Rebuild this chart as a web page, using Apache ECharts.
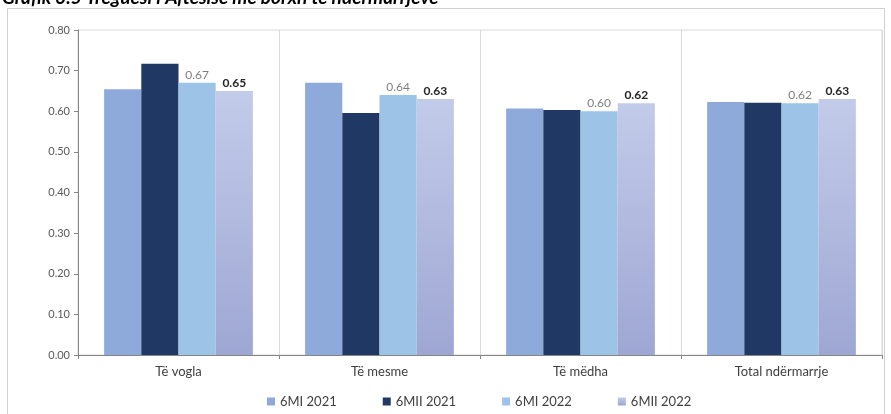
<!DOCTYPE html>
<html>
<head>
<meta charset="utf-8">
<script src="https://cdn.jsdelivr.net/npm/echarts@6/dist/echarts.min.js"></script>
<style>
  html, body { margin: 0; padding: 0; background: #fff; }
  #chart { width: 891px; height: 414px; }
</style>
</head>
<body>
<div id="chart"></div>
<script>
// Categories of enterprises (by size) and the four half-year periods
const categories = ['Të vogla', 'Të mesme', 'Të mëdha', 'Total ndërmarrje'];
const seriesNames = ['6MI 2021', '6MII 2021', '6MI 2022', '6MII 2022'];

// Indicator values per period
const h1_2021 = [0.654, 0.670, 0.607, 0.623];
const h2_2021 = [0.717, 0.596, 0.603, 0.621];
const h1_2022 = [0.67, 0.64, 0.60, 0.62];
const h2_2022 = [0.65, 0.63, 0.62, 0.63];

// Y axis ticks
const yTicks = [0, 0.1, 0.2, 0.3, 0.4, 0.5, 0.6, 0.7, 0.8];

const chart = echarts.init(document.getElementById('chart'));

const font = 'Lato, "Open Sans", sans-serif';

const colors = [
  '#8eaadb',
  '#1f3864',
  '#9dc3e6',
  new echarts.graphic.LinearGradient(0, 0, 0, 1, [
    { offset: 0, color: '#c3cbea' },
    { offset: 1, color: '#9ea7d3' }
  ])
];

function bar(name, data, idx, label) {
  const s = {
    name: name,
    type: 'bar',
    data: data,
    barGap: '0%',
    barCategoryGap: '26%',
    itemStyle: { color: colors[idx] },
    emphasis: { disabled: true }
  };
  if (label) {
    s.label = Object.assign({
      show: true,
      position: 'top',
      distance: 2,
      fontFamily: font,
      formatter: p => p.value.toFixed(2)
    }, label);
  }
  return s;
}

chart.setOption({
  animation: false,
  textStyle: { fontFamily: font },
  graphic: [
    {
      type: 'rect',
      shape: { x: 7.5, y: 8.5, width: 877, height: 410 },
      style: { fill: 'none', stroke: '#d0d0d0', lineWidth: 1 },
      silent: true
    },
    {
      type: 'text',
      left: 2,
      top: -12,
      style: {
        text: 'Grafik 3.5 Treguesi i Aftësisë me borxh të ndërmarrjeve',
        font: 'italic bold 19px ' + font,
        fill: '#000'
      }
    }
  ],
  legend: {
    bottom: 1,
    left: 262,
    itemWidth: 8,
    itemHeight: 8,
    itemGap: 46,
    icon: 'rect',
    textStyle: { fontSize: 13, color: '#404040', fontFamily: font },
    data: seriesNames
  },
  grid: {
    left: 78,
    right: 9,
    top: 30,
    bottom: 59,
    show: true,
    borderColor: '#d9d9d9',
    borderWidth: 1
  },
  xAxis: {
    type: 'category',
    data: categories,
    axisLine: { lineStyle: { color: '#868686' } },
    axisTick: { show: true, length: 4, lineStyle: { color: '#868686' } },
    splitLine: { show: true, lineStyle: { color: '#d9d9d9' } },
    axisLabel: { fontSize: 13, color: '#404040', margin: 10, fontFamily: font }
  },
  yAxis: {
    type: 'value',
    min: 0,
    max: 0.8,
    interval: 0.1,
    axisLine: { show: true, lineStyle: { color: '#868686' } },
    axisTick: { show: true, length: 4, lineStyle: { color: '#868686' } },
    splitLine: { show: false },
    axisLabel: {
      fontSize: 11,
      color: '#595959',
      margin: 8,
      fontFamily: font,
      formatter: v => {
        const t = yTicks.find(k => Math.abs(k - v) < 1e-9);
        return (t !== undefined ? t : v).toFixed(2);
      }
    }
  },
  series: [
    bar(seriesNames[0], h1_2021, 0),
    bar(seriesNames[1], h2_2021, 1),
    bar(seriesNames[2], h1_2022, 2, { fontSize: 12, color: '#7f7f7f' }),
    bar(seriesNames[3], h2_2022, 3, { fontSize: 12, color: '#262626', fontWeight: 'bold' })
  ]
});
</script>
</body>
</html>
